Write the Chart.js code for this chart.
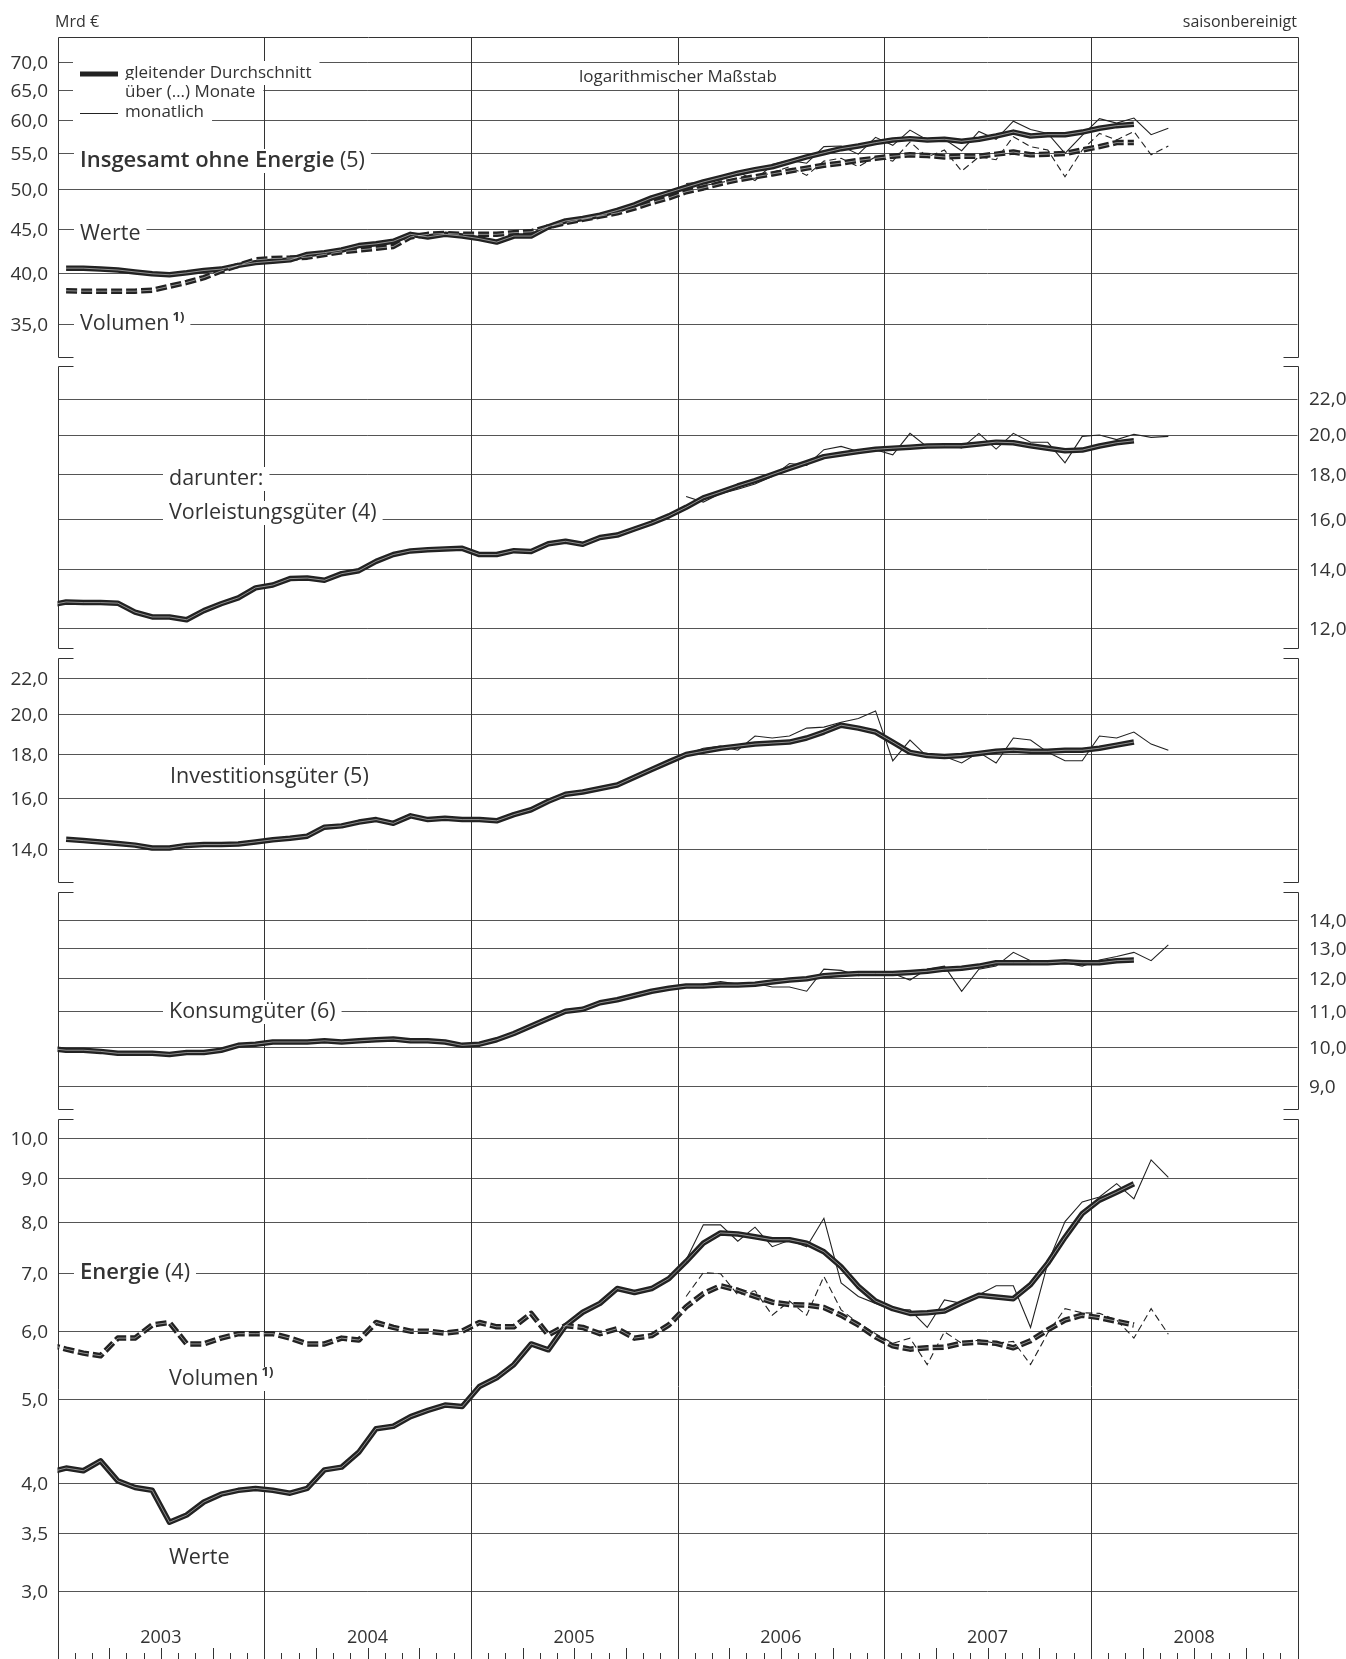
<!DOCTYPE html>
<html lang="de">
<head>
<meta charset="utf-8">
<script src="https://cdn.jsdelivr.net/npm/chart.js@4.4.1/dist/chart.umd.min.js"></script>
<style>
  html, body { margin: 0; padding: 0; background: #fff; }
  #wrap { position: relative; width: 1346px; height: 1659px; overflow: hidden; }
  #wrap canvas { position: absolute; left: 0; }
</style>
</head>
<body>
<div id="wrap"></div>
<script>
// x axis: months since Jan 2003, points sit in the middle of each month
const yearLabels = ['2003', '2004', '2005', '2006', '2007', '2008'];

// Insgesamt ohne Energie (Mrd €), moving averages from Jan 2003, monthly from Jan 2006
const insgTicks = [70, 65, 60, 55, 50, 45, 40, 35];
const insgWerteAvg = [
  40.6, 40.6, 40.5, 40.4, 40.2, 40.0, 39.9, 40.1, 40.35, 40.5, 40.9, 41.2,
  41.35, 41.5, 42.1, 42.3, 42.6, 43.1, 43.3, 43.6, 44.4, 44.1, 44.4, 44.2,
  43.9, 43.5, 44.2, 44.2, 45.3, 46.0, 46.3, 46.7, 47.3, 48.0, 48.9, 49.6,
  50.3, 51.0, 51.6, 52.2, 52.7, 53.1, 53.8, 54.5, 55.1, 55.7, 56.1, 56.6,
  57.0, 57.2, 57.0, 57.1, 56.8, 57.1, 57.6, 58.2, 57.6, 57.8, 57.8, 58.2,
  58.8, 59.2, 59.4
];
const insgVolAvg = [
  38.25, 38.2, 38.2, 38.2, 38.2, 38.3, 38.7, 39.1, 39.6, 40.3, 40.9, 41.5,
  41.65, 41.7, 41.8, 42.1, 42.4, 42.6, 42.8, 43.0, 44.1, 44.4, 44.5, 44.4,
  44.4, 44.4, 44.6, 44.7, 45.3, 45.8, 46.2, 46.6, 47.0, 47.6, 48.3, 48.9,
  49.7, 50.2, 50.8, 51.3, 51.7, 52.1, 52.5, 52.9, 53.3, 53.6, 54.0, 54.3,
  54.6, 54.8, 54.7, 54.5, 54.6, 54.6, 54.9, 55.2, 54.8, 54.9, 55.0, 55.5,
  56.0, 56.6, 56.6
];
const insgWerteMon = [
  50.8, 51.0, 51.3, 52.4, 51.2, 53.4, 54.0, 53.6, 56.0, 56.1, 54.9, 57.4,
  56.2, 58.5, 57.0, 57.1, 55.4, 58.3, 57.1, 59.9, 58.6, 58.0, 55.0, 57.7,
  60.3, 59.6, 60.4, 57.8, 58.8
];
const insgVolMon = [
  49.8, 50.5, 50.9, 51.5, 51.5, 52.3, 53.1, 51.9, 53.9, 54.3, 53.1, 54.5,
  53.9, 56.7, 54.5, 55.5, 52.5, 54.5, 54.1, 57.5, 56.0, 55.5, 51.7, 55.5,
  58.0, 57.0, 58.3, 54.8, 56.1
];

// Vorleistungsgüter, average from Dec 2002
const vorlTicks = [22, 20, 18, 16, 14, 12];
const vorlAvg = [
  12.75,
  12.86, 12.84, 12.84, 12.82, 12.52, 12.36, 12.36, 12.27, 12.57, 12.8, 13.0, 13.35,
  13.45, 13.68, 13.7, 13.62, 13.86, 13.97, 14.32, 14.58, 14.72, 14.77, 14.8, 14.82,
  14.58, 14.58, 14.73, 14.7, 15.0, 15.1, 14.98, 15.25, 15.35, 15.6, 15.85, 16.15,
  16.52, 16.94, 17.2, 17.48, 17.73, 18.02, 18.31, 18.59, 18.89, 19.02, 19.15, 19.26,
  19.32, 19.37, 19.43, 19.44, 19.44, 19.53, 19.63, 19.6, 19.44, 19.31, 19.19, 19.22,
  19.43, 19.6, 19.7
];
const vorlMon = [
  17.0, 16.75, 17.13, 17.33, 17.57, 17.92, 18.55, 18.46, 19.24, 19.41, 19.15, 19.24,
  18.98, 20.09, 19.38, 19.5, 19.33, 20.09, 19.27, 20.09, 19.62, 19.62, 18.58, 19.93,
  20.0, 19.76, 20.04, 19.88, 19.93
];

// Investitionsgüter, average from Jan 2003
const invTicks = [22, 20, 18, 16, 14];
const invAvg = [
  14.38, 14.33, 14.28, 14.22, 14.16, 14.05, 14.05, 14.15, 14.18, 14.18, 14.2, 14.28,
  14.36, 14.42, 14.5, 14.85, 14.9, 15.05, 15.15, 15.0, 15.3, 15.15, 15.2, 15.15,
  15.15, 15.1, 15.35, 15.55, 15.9, 16.2, 16.3, 16.45, 16.6, 16.95, 17.3, 17.65,
  18.0, 18.15, 18.3, 18.4, 18.5, 18.55, 18.6, 18.8, 19.1, 19.45, 19.3, 19.1,
  18.6, 18.1, 17.95, 17.9, 17.95, 18.05, 18.15, 18.2, 18.15, 18.15, 18.2, 18.2,
  18.3, 18.45, 18.6
];
const invMon = [
  18.0, 18.3, 18.4, 18.2, 18.9, 18.8, 18.9, 19.3, 19.35, 19.6, 19.8, 20.2,
  17.7, 18.7, 17.9, 17.9, 17.6, 18.1, 17.6, 18.8, 18.7, 18.1, 17.7, 17.7,
  18.9, 18.8, 19.1, 18.5, 18.2
];

// Konsumgüter, average from Dec 2002
const konsTicks = [14, 13, 12, 11, 10, 9];
const konsAvg = [
  9.97,
  9.92, 9.92, 9.89, 9.84, 9.84, 9.84, 9.81, 9.86, 9.86, 9.92, 10.05, 10.08,
  10.14, 10.14, 10.14, 10.17, 10.14, 10.17, 10.2, 10.22, 10.17, 10.17, 10.14, 10.05,
  10.08, 10.2, 10.37, 10.58, 10.79, 11.0, 11.06, 11.25, 11.34, 11.47, 11.6, 11.69,
  11.76, 11.76, 11.79, 11.79, 11.82, 11.89, 11.95, 11.99, 12.09, 12.13, 12.16, 12.16,
  12.16, 12.19, 12.23, 12.3, 12.33, 12.4, 12.51, 12.51, 12.51, 12.51, 12.54, 12.51,
  12.51, 12.58, 12.6
];
const konsMon = [
  11.73, 11.82, 11.9, 11.82, 11.85, 11.73, 11.73, 11.6, 12.3, 12.26, 12.09, 12.16,
  12.16, 11.95, 12.3, 12.4, 11.6, 12.3, 12.4, 12.86, 12.58, 12.55, 12.51, 12.4,
  12.6, 12.72, 12.86, 12.58, 13.12
];

// Energie, averages from Dec 2002
const enTicks = [10, 9, 8, 7, 6, 5, 4, 3.5, 3];
const enWerteAvg = [
  4.12,
  4.17, 4.14, 4.25, 4.03, 3.96, 3.93, 3.61, 3.68, 3.81, 3.89, 3.93, 3.95,
  3.93, 3.9, 3.95, 4.15, 4.18, 4.35, 4.63, 4.66, 4.78, 4.86, 4.93, 4.91,
  5.18, 5.3, 5.49, 5.8, 5.71, 6.09, 6.31, 6.46, 6.72, 6.65, 6.72, 6.9,
  7.22, 7.58, 7.79, 7.77, 7.71, 7.65, 7.65, 7.58, 7.41, 7.12, 6.76, 6.5,
  6.37, 6.29, 6.3, 6.33, 6.47, 6.6, 6.57, 6.54, 6.79, 7.19, 7.7, 8.2,
  8.5, 8.68, 8.88
];
const enVolAvg = [
  5.79,
  5.72, 5.66, 5.62, 5.89, 5.89, 6.1, 6.14, 5.8, 5.8, 5.89, 5.96, 5.96,
  5.96, 5.89, 5.8, 5.8, 5.89, 5.86, 6.14, 6.06, 6.0, 6.0, 5.97, 6.0,
  6.14, 6.07, 6.07, 6.29, 5.94, 6.09, 6.06, 5.96, 6.04, 5.89, 5.93, 6.1,
  6.4, 6.63, 6.77, 6.69, 6.58, 6.48, 6.44, 6.43, 6.39, 6.26, 6.1, 5.91,
  5.77, 5.72, 5.74, 5.75, 5.81, 5.83, 5.81, 5.74, 5.85, 6.02, 6.18, 6.26,
  6.22, 6.16, 6.1
];
const enWerteMon = [
  7.25, 7.96, 7.96, 7.62, 7.91, 7.51, 7.64, 7.51, 8.1, 6.82, 6.58, 6.46,
  6.35, 6.35, 6.06, 6.52, 6.46, 6.61, 6.77, 6.77, 6.06, 7.19, 8.03, 8.46,
  8.57, 8.88, 8.53, 9.46, 9.03
];
const enVolMon = [
  6.58, 7.01, 6.99, 6.61, 6.68, 6.26, 6.5, 6.26, 6.94, 6.35, 6.13, 5.96,
  5.81, 5.89, 5.49, 5.99, 5.81, 5.86, 5.81, 5.84, 5.49, 5.97, 6.37, 6.3,
  6.29, 6.18, 5.89, 6.37, 5.95
];

const TEXT = '#333';
const LINE = '#222';
const FONT = '"Open Sans", "DejaVu Sans", sans-serif';
const SUP = { text: '1)', font: '700 13px ' + FONT, dy: -7, gap: 3 };

const pts = (vals, start) => vals.map((v, i) => ({ x: start + i + 0.5, y: v }));

function seg(ctx, x1, y1, x2, y2) {
  ctx.beginPath(); ctx.moveTo(x1, y1); ctx.lineTo(x2, y2); ctx.stroke();
}

function boxed(ctx, x, y, parts, padL, padR) {
  let w = 0;
  parts.forEach(p => { ctx.font = p.font; p.w = ctx.measureText(p.text).width; w += p.w + (p.gap || 0); });
  ctx.fillStyle = '#fff';
  ctx.fillRect(x - padL, y - 12, w + padL + padR, 24);
  ctx.fillStyle = TEXT;
  ctx.textAlign = 'left';
  ctx.textBaseline = 'middle';
  let cx = x;
  parts.forEach(p => {
    cx += p.gap || 0;
    ctx.font = p.font;
    ctx.fillText(p.text, cx, y + (p.dy || 0));
    cx += p.w;
  });
}

const reg = t => ({ text: t, font: '21.5px ' + FONT });
const semi = t => ({ text: t, font: '600 22px ' + FONT });

const panels = [
  {
    id: 'p1', top: 0, height: 361, areaTop: 37, areaBottom: 356.7,
    min: 32.12, max: 74.85, ticks: insgTicks, side: 'left', topBorder: true, bottomBracket: true,
    series: [
      { vals: insgWerteAvg, start: 0, thick: true },
      { vals: insgVolAvg, start: 0, thick: true, dashed: true },
      { vals: insgWerteMon, start: 36 },
      { vals: insgVolMon, start: 36, dashed: true }
    ],
    labels: [
      { x: 80, y: 161, parts: [semi('Insgesamt ohne Energie'), reg(' (5)')] },
      { x: 80, y: 234, parts: [reg('Werte')] },
      { x: 80, y: 324, parts: [reg('Volumen'), SUP] }
    ],
    extra(ctx) {
      ctx.fillStyle = TEXT;
      ctx.textBaseline = 'middle';
      ctx.font = '16px ' + FONT;
      ctx.textAlign = 'left';
      ctx.fillText('Mrd €', 55, 22);
      ctx.textAlign = 'right';
      ctx.fillText('saisonbereinigt', 1297, 22);
      const lf = '17px ' + FONT;
      boxed(ctx, 125, 73, [{ text: 'gleitender Durchschnitt', font: lf }], 52, 8);
      boxed(ctx, 125, 92, [{ text: 'über (…) Monate', font: lf }], 52, 8);
      boxed(ctx, 125, 112, [{ text: 'monatlich', font: lf }], 52, 8);
      ctx.font = lf;
      const lw = ctx.measureText('logarithmischer Maßstab').width;
      boxed(ctx, 678 - lw / 2, 77, [{ text: 'logarithmischer Maßstab', font: lf }], 6, 6);
      ctx.strokeStyle = LINE;
      ctx.lineWidth = 5;
      seg(ctx, 80, 74, 118, 74);
      ctx.lineWidth = 1.2;
      seg(ctx, 80, 113.5, 118, 113.5);
    }
  },
  {
    id: 'p2', top: 361, height: 292, areaTop: 366, areaBottom: 648.2,
    min: 11.38, max: 24.01, ticks: vorlTicks, side: 'right', bottomBracket: true,
    series: [
      { vals: vorlAvg, start: -1, thick: true },
      { vals: vorlMon, start: 36 }
    ],
    labels: [
      { x: 169, y: 479, parts: [reg('darunter:')] },
      { x: 169, y: 513, parts: [reg('Vorleistungsgüter (4)')] }
    ]
  },
  {
    id: 'p3', top: 653, height: 234, areaTop: 657.9, areaBottom: 882.1,
    min: 12.84, max: 23.24, ticks: invTicks, side: 'left', bottomBracket: true,
    series: [
      { vals: invAvg, start: 0, thick: true },
      { vals: invMon, start: 36 }
    ],
    labels: [
      { x: 170, y: 777, parts: [reg('Investitionsgüter (5)')] }
    ]
  },
  {
    id: 'p4', top: 887, height: 227, areaTop: 891.8, areaBottom: 1108.5,
    min: 8.51, max: 15.1, ticks: konsTicks, side: 'right', bottomBracket: true,
    series: [
      { vals: konsAvg, start: -1, thick: true },
      { vals: konsMon, start: 36 }
    ],
    labels: [
      { x: 169, y: 1012, parts: [reg('Konsumgüter (6)')] }
    ]
  },
  {
    id: 'p5', top: 1114, height: 545, areaTop: 1119, areaBottom: 1659,
    min: 2.51, max: 10.546, ticks: enTicks, side: 'left', bottomBracket: false,
    series: [
      { vals: enWerteAvg, start: -1, thick: true },
      { vals: enVolAvg, start: -1, thick: true, dashed: true },
      { vals: enWerteMon, start: 36 },
      { vals: enVolMon, start: 36, dashed: true }
    ],
    labels: [
      { x: 80, y: 1273, parts: [semi('Energie'), reg(' (4)')] },
      { x: 169, y: 1379, parts: [reg('Volumen'), SUP] },
      { x: 169, y: 1558, parts: [reg('Werte')] }
    ],
    extra(ctx, chart, p) {
      const xs = chart.scales.x;
      const H = chart.height;
      ctx.strokeStyle = '#333';
      ctx.lineWidth = 1;
      for (let m = 1; m < 72; m++) {
        if (m % 12 === 0) continue;
        const xx = Math.round(xs.getPixelForValue(m)) + 0.5;
        seg(ctx, xx, H - (m % 3 === 0 ? 11 : 6), xx, H);
      }
      ctx.fillStyle = TEXT;
      ctx.font = '18px ' + FONT;
      ctx.textAlign = 'center';
      ctx.textBaseline = 'middle';
      yearLabels.forEach((t, k) => ctx.fillText(t, xs.getPixelForValue(12 * k + 6), 1638 - p.top));
    }
  }
];

function makeDecor(p) {
  return {
    id: 'decor',
    beforeDatasetsDraw(chart) {
      const { ctx, chartArea: a } = chart;
      const xs = chart.scales.x, ys = chart.scales.y;
      const H = chart.height;
      const px = v => Math.round(v) + 0.5;
      ctx.save();
      ctx.strokeStyle = '#333';
      ctx.lineWidth = 1;
      for (let k = 1; k < yearLabels.length; k++) {
        const xx = px(xs.getPixelForValue(12 * k));
        seg(ctx, xx, p.topBorder ? px(a.top) : 0, xx, H);
      }
      const L = px(a.left), R = px(a.right), T = px(a.top), B = px(a.bottom);
      seg(ctx, L, T, L, p.bottomBracket ? B : H);
      seg(ctx, R, T, R, p.bottomBracket ? B : H);
      if (p.topBorder) seg(ctx, L, T, R, T);
      else { seg(ctx, L, T, L + 15, T); seg(ctx, R - 15, T, R, T); }
      if (p.bottomBracket) { seg(ctx, L, B, L + 15, B); seg(ctx, R - 15, B, R, B); }

      ctx.fillStyle = TEXT;
      ctx.font = '19px ' + FONT;
      ctx.textBaseline = 'middle';
      ctx.textAlign = p.side === 'left' ? 'right' : 'left';
      p.ticks.forEach(v => {
        ctx.fillText(v.toFixed(1).replace('.', ','), p.side === 'left' ? 48 : 1309, ys.getPixelForValue(v) + 1);
      });

      p.labels.forEach(l => boxed(ctx, l.x, l.y - p.top, l.parts, 6, 6));
      if (p.extra) p.extra(ctx, chart, p);
      ctx.restore();
    }
  };
}

function buildSets(spec) {
  const centers = [], bodies = [], thins = [];
  spec.forEach(s => {
    const data = pts(s.vals, s.start);
    const dash = s.dashed ? (s.thick ? [11, 4] : [7, 4]) : [];
    if (s.thick) {
      centers.push({ data, borderColor: 'rgba(255,255,255,0.5)', borderWidth: 1, borderDash: dash, borderJoinStyle: 'round' });
      bodies.push({ data, borderColor: LINE, borderWidth: 5.5, borderDash: dash, borderJoinStyle: 'round' });
    } else {
      thins.push({ data, borderColor: LINE, borderWidth: 1.1, borderDash: dash, borderJoinStyle: 'miter' });
    }
  });
  return [...centers, ...bodies, ...thins].map(d =>
    Object.assign(d, { pointRadius: 0, tension: 0, fill: false, clip: 0 }));
}

const wrap = document.getElementById('wrap');
panels.forEach(p => {
  const cv = document.createElement('canvas');
  cv.id = p.id;
  cv.width = 1346;
  cv.height = p.height;
  cv.style.top = p.top + 'px';
  cv.style.width = '1346px';
  cv.style.height = p.height + 'px';
  wrap.appendChild(cv);

  new Chart(cv, {
    type: 'line',
    data: { datasets: buildSets(p.series) },
    options: {
      responsive: false,
      animation: false,
      devicePixelRatio: 1,
      events: [],
      layout: {
        padding: {
          left: 57.5, right: 48.5,
          top: p.areaTop - p.top,
          bottom: p.top + p.height - p.areaBottom
        }
      },
      plugins: { legend: { display: false }, tooltip: { enabled: false } },
      scales: {
        x: { type: 'linear', min: 0, max: 72, display: false },
        y: {
          type: 'logarithmic', min: p.min, max: p.max,
          afterBuildTicks: s => { s.ticks = p.ticks.map(v => ({ value: v })); },
          afterFit: s => { s.width = 0; },
          ticks: { display: false },
          border: { display: false },
          grid: { color: '#555', lineWidth: 1, drawTicks: false }
        }
      }
    },
    plugins: [makeDecor(p)]
  });
});
</script>
</body>
</html>
